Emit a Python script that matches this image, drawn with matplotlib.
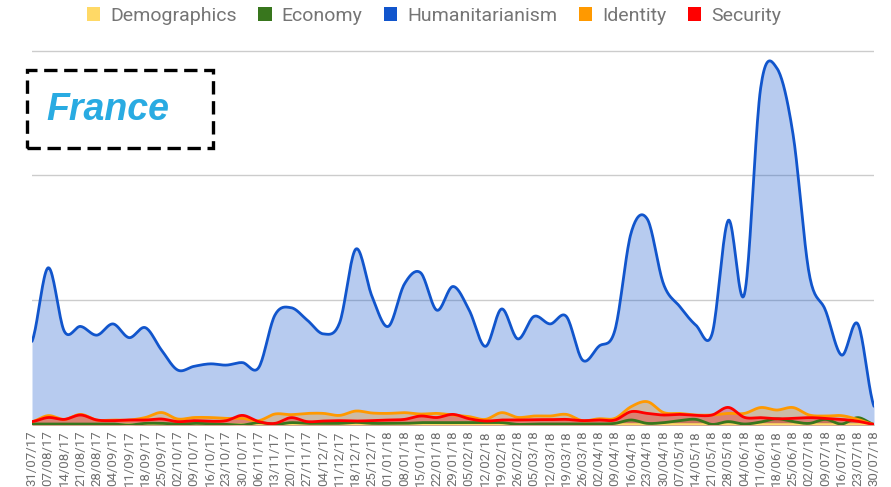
import numpy as np
import pandas as pd
import matplotlib.pyplot as plt
from matplotlib.patches import Rectangle, Patch

# weekly dates, 31/07/17 .. 30/07/18
weeks = pd.date_range('2017-07-31', '2018-07-30', freq='7D')
week_labels = [d.strftime('%d/%m/%y') for d in weeks]

humanitarianism = [67, 126, 75, 79, 72, 81, 70, 78, 60, 44,
                   47, 49, 48, 50, 46, 88, 94, 84, 73, 82,
                   141, 103, 79, 113, 122, 92, 111, 92, 63, 93,
                   69, 87, 81, 87, 52, 63, 76, 154, 165, 113,
                   95, 80, 73, 164, 105, 270, 286, 233, 121, 92,
                   56, 81, 15]
identity = [2.7, 7.5, 4.5, 8.5, 4, 4, 4, 6, 10, 4.8,
            6, 6, 5.3, 5.3, 3.5, 8.8, 8.3, 9.3, 9.3, 7.7,
            11.2, 9.6, 9.3, 9.9, 8.8, 9.3, 8, 6.7, 4.5, 9.9,
            6.1, 7.2, 7.2, 8.5, 3.5, 5, 5.3, 14.7, 18.7, 10,
            9.3, 8, 8, 9.3, 9.3, 14, 12, 14, 8, 7.2,
            7.5, 4.5, 0.5]
security = [2.7, 6, 4.5, 8, 4, 3.5, 4, 4, 4.8, 2.7,
            3.5, 3, 3.5, 7.7, 2.7, 1.3, 5.9, 2.7, 3.2, 3.5,
            3.2, 3.5, 4, 4.5, 7.2, 6, 8.5, 5, 3.2, 4,
            4, 4.3, 4.3, 4.5, 3.5, 4, 4, 10.7, 9.3, 8,
            8.5, 7.7, 8, 14.1, 6.1, 5.9, 5, 5.3, 5.9, 5.3,
            4.5, 3, 0.5]
economy = [0.8, 0.8, 0.8, 0.8, 0.8, 0.8, 0, 1.3, 1.3, 0.8,
           1.3, 1, 0.5, 0, 1.9, 0.5, 1.9, 1.3, 1.3, 1.3,
           2.1, 1.3, 1.3, 1.3, 1.9, 1.9, 1.9, 1.9, 1.9, 1.9,
           0.5, 0.8, 0.8, 0.8, 0.8, 0.8, 1.3, 4, 1.3, 1.9,
           3.5, 4.5, 0.5, 2.7, 0.8, 2.4, 5, 2.7, 1.3, 4.5,
           0.8, 5.9, 0.5]
demographics = [0.3] * len(weeks)

series = ['Demographics', 'Economy', 'Humanitarianism', 'Identity', 'Security']
values = [demographics, economy, humanitarianism, identity, security]
colors = ['#ffd966', '#38761d', '#1155cc', '#ff9900', '#ff0000']


def smooth(y, n=20):
    # Catmull-Rom spline through the weekly points
    y = np.asarray(y, dtype=float)
    p = np.concatenate([[y[0]], y, [y[-1]]])
    xs, ys = [], []
    t = np.linspace(0, 1, n, endpoint=False)
    for i in range(len(y) - 1):
        p0, p1, p2, p3 = p[i], p[i + 1], p[i + 2], p[i + 3]
        seg = 0.5 * (2 * p1 + (-p0 + p2) * t + (2 * p0 - 5 * p1 + 4 * p2 - p3) * t ** 2
                     + (-p0 + 3 * p1 - 3 * p2 + p3) * t ** 3)
        xs.append(i + t)
        ys.append(seg)
    xs.append([len(y) - 1])
    ys.append([y[-1]])
    return np.concatenate(xs), np.concatenate(ys)


plt.rcParams['font.family'] = ['Roboto', 'DejaVu Sans']
fig = plt.figure(figsize=(8.91, 4.87), dpi=100)
ax = fig.add_axes([32 / 891, 62 / 487, 842 / 891, 375 / 487])

for k, (name, vals, c) in enumerate(zip(series, values, colors)):
    xs, ys = smooth(vals)
    ax.fill_between(xs, 0, ys, color=c, alpha=0.3, linewidth=0, zorder=2 + k * 0.01)
    ax.plot(xs, ys, color=c, lw=2, zorder=3 + k * 0.01, solid_capstyle='round')

ax.set_xlim(0, len(weeks) - 1)
ax.set_ylim(0, 300.5)
ax.set_yticks([0, 100, 200, 300])
ax.set_yticklabels([])
ax.grid(axis='y', color='#cccccc', lw=1, zorder=1)
ax.tick_params(axis='y', length=0)
for s in ax.spines.values():
    s.set_visible(False)

ax.set_xticks(range(len(weeks)))
ax.set_xticklabels(week_labels, rotation=90, fontsize=9.5, color='#6f6f6f')
ax.tick_params(axis='x', length=0, pad=4)

handles = [Patch(facecolor=c, edgecolor='none') for c in colors]
fig.legend(handles, series, loc='upper center', bbox_to_anchor=(0.487, 1.022), ncol=5,
           frameon=False, fontsize=14, labelcolor='#757575', handlelength=0.7,
           handleheight=0.7, handletextpad=0.5, columnspacing=1.1)

# country label in dashed box
box = Rectangle((27 / 891, 1 - 148 / 487), 186 / 891, 78 / 487, transform=fig.transFigure,
                fill=False, edgecolor='black', lw=2.4, linestyle=(0, (4, 2)), zorder=10)
fig.patches.append(box)
fig.text(108 / 891, 1 - 110 / 487, 'France', fontsize=27, fontweight='bold', style='italic',
         color='#29abe2', family='Liberation Sans', ha='center', va='center')

fig.savefig('out.png', dpi=100)
